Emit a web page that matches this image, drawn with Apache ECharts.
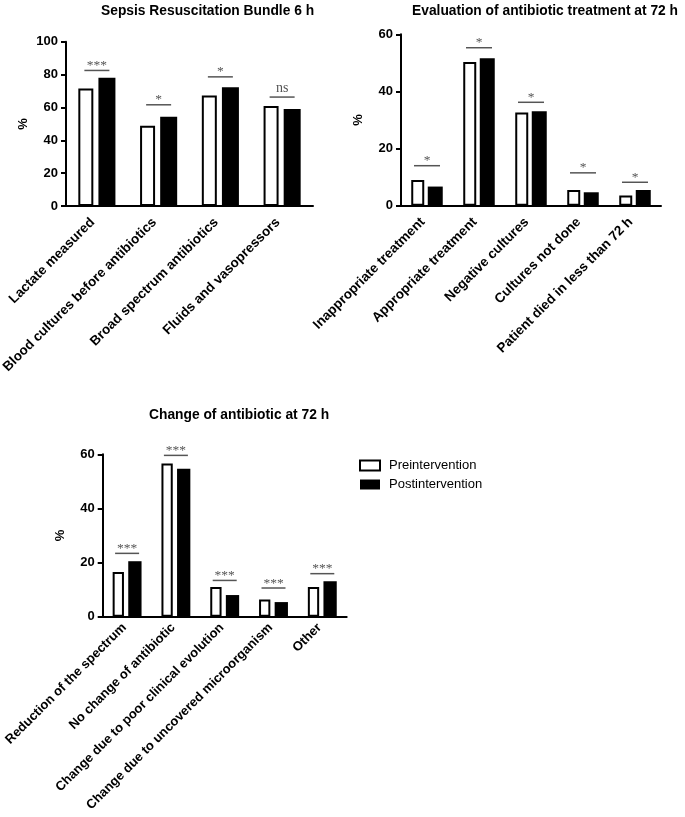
<!DOCTYPE html>
<html><head><meta charset="utf-8">
<script src="https://cdn.jsdelivr.net/npm/echarts@6/dist/echarts.min.js"></script>
<style>html,body{margin:0;padding:0;background:#fff}#c{width:685px;height:817px}</style>
</head><body><div id="c"></div>
<script>
// Panel 1: Sepsis Resuscitation Bundle 6 h
const cats1 = ['Lactate measured', 'Blood cultures before antibiotics', 'Broad spectrum antibiotics', 'Fluids and vasopressors'];
const pre1 = [71.5, 48.8, 67.3, 60.8];
const post1 = [78.0, 54.3, 72.3, 59.0];
const sigY1 = [82.5, 61.6, 78.6, 66.3];
const sigL1 = ['***', '*', '*', 'ns'];

// Panel 2: Evaluation of antibiotic treatment at 72 h
const cats2 = ['Inappropriate treatment', 'Appropriate treatment', 'Negative cultures', 'Cultures not done', 'Patient died in less than 72 h'];
const pre2 = [9.0, 50.3, 32.6, 5.5, 3.6];
const post2 = [6.7, 51.6, 33.1, 4.7, 5.5];
const sigY2 = [14.0, 55.3, 36.2, 11.5, 8.2];
const sigL2 = ['*', '*', '*', '*', '*'];

// Panel 3: Change of antibiotic at 72 h
const cats3 = ['Reduction of the spectrum', 'No change of antibiotic', 'Change due to poor clinical evolution', 'Change due to uncovered microorganism', 'Other'];
const pre3 = [16.5, 56.6, 11.0, 6.4, 11.0];
const post3 = [20.5, 54.7, 8.0, 5.4, 13.1];
const sigY3 = [23.4, 59.6, 13.4, 10.6, 15.9];
const sigL3 = ['***', '***', '***', '***', '***'];

const titles = ['Sepsis Resuscitation Bundle 6 h', 'Evaluation of antibiotic treatment at 72 h', 'Change of antibiotic at 72 h'];
const seriesNames = ['Preintervention', 'Postintervention'];

const FONT = '"Liberation Sans", Arial, Helvetica, sans-serif';
const chart = echarts.init(document.getElementById('c'), null, {renderer: 'canvas'});

const grids = [
  {left: 66, top: 41.7, width: 247, height: 164.3, outerBoundsMode: 'none', containLabel: false},
  {left: 401, top: 34.3, width: 260, height: 171.4, outerBoundsMode: 'none', containLabel: false},
  {left: 102.7, top: 454.3, width: 244, height: 162.4, outerBoundsMode: 'none', containLabel: false}
];
const catsAll = [cats1, cats2, cats3];
const maxes = [100, 60, 60];
const barW = [17, 15, 13.3];
const gaps = ['34%', '27%', '38%'];
const halfW = [12.5, 13, 12];
const lblFont = [13.5, 13.5, 13];
const lblMargin = [10, 10, 6];
const lblPad = [6, 6, 4];
const preAll = [pre1, pre2, pre3];
const postAll = [post1, post2, post3];
const sigYAll = [sigY1, sigY2, sigY3];
const sigLAll = [sigL1, sigL2, sigL3];

const xAxes = catsAll.map((c, i) => ({
  type: 'category', gridIndex: i, data: c,
  axisLine: {lineStyle: {color: '#000', width: 2}},
  axisTick: {alignWithLabel: true, length: 6, lineStyle: {color: '#000', width: 2}},
  axisLabel: {rotate: 45, interval: 0, margin: lblMargin[i], padding: [0, lblPad[i], 0, 0], color: '#000',
              fontFamily: FONT, fontWeight: 'bold', fontSize: lblFont[i]}
}));
const yAxes = maxes.map((m, i) => ({
  type: 'value', gridIndex: i, min: 0, max: m, interval: 20,
  name: '%', nameLocation: 'middle', nameGap: 36,
  nameTextStyle: {color: '#000', fontFamily: FONT, fontWeight: 'bold', fontSize: 13},
  splitLine: {show: false},
  axisLine: {show: true, lineStyle: {color: '#000', width: 2}},
  axisTick: {show: true, length: 5, lineStyle: {color: '#000', width: 2}},
  axisLabel: {margin: 8, color: '#000', fontFamily: FONT, fontWeight: 'bold', fontSize: 13}
}));

const series = [];
for (let i = 0; i < 3; i++) {
  series.push({
    name: seriesNames[0], type: 'bar', xAxisIndex: i, yAxisIndex: i,
    data: preAll[i], barWidth: barW[i] - 2, barGap: gaps[i],
    itemStyle: {color: '#fff', borderColor: '#000', borderWidth: 2},
    animation: false
  });
  series.push({
    name: seriesNames[1], type: 'bar', xAxisIndex: i, yAxisIndex: i,
    data: postAll[i], barWidth: barW[i], barGap: gaps[i],
    itemStyle: {color: '#000'},
    animation: false
  });
  const labels = sigLAll[i];
  const hw = halfW[i];
  series.push({
    type: 'custom', xAxisIndex: i, yAxisIndex: i,
    data: sigYAll[i].map((v, k) => [k, v]),
    encode: {x: 0, y: 1},
    silent: true, animation: false,
    renderItem: function (params, api) {
      const p = api.coord([api.value(0), api.value(1)]);
      const lab = labels[params.dataIndex];
      return {
        type: 'group',
        children: [
          {type: 'line', shape: {x1: p[0] - hw, y1: p[1], x2: p[0] + hw, y2: p[1]},
           style: {stroke: '#555', lineWidth: 1.5}},
          {type: 'text', x: p[0], y: lab === 'ns' ? p[1] - 2 : p[1] + 2,
           style: {text: lab, fill: '#555', fontFamily: '"Liberation Serif", "Times New Roman", serif',
                   fontSize: lab === 'ns' ? 14 : 13.5, align: 'center', verticalAlign: 'bottom'}}
        ]
      };
    }
  });
}

chart.setOption({
  animation: false,
  title: [
    {text: titles[0], left: 96, top: -1},
    {text: titles[1], left: 407, top: -1},
    {text: titles[2], left: 144, top: 403}
  ].map(t => Object.assign(t, {textStyle: {color: '#000', fontFamily: FONT, fontWeight: 'bold', fontSize: 13.8}})),
  legend: {
    data: seriesNames, orient: 'vertical', left: 354, top: 454,
    itemWidth: 20, itemHeight: 10, itemGap: 6, icon: 'rect',
    textStyle: {color: '#000', fontFamily: FONT, fontSize: 13, padding: [0, 0, 0, 4]}
  },
  grid: grids,
  xAxis: xAxes,
  yAxis: yAxes,
  series: series
});
</script></body></html>
